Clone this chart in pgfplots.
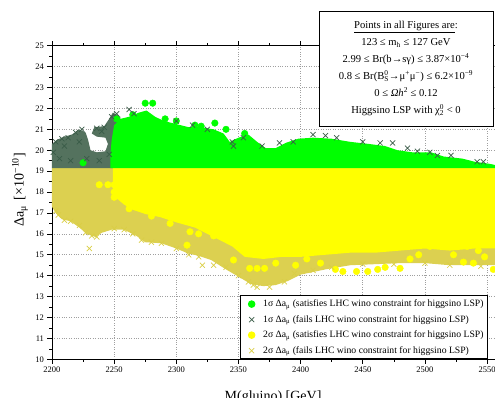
\documentclass[border=0pt]{standalone}
\usepackage{fontspec}
\setmainfont{Liberation Serif}
\usepackage{pgfplots}
\pgfplotsset{compat=1.18}
\definecolor{lgreen}{RGB}{0,255,0}
\definecolor{lyellow}{RGB}{255,255,0}
\definecolor{darkx}{RGB}{58,92,72}
\definecolor{darkfill}{RGB}{84,114,94}
\definecolor{olivex}{RGB}{218,206,70}
\definecolor{olivefill}{RGB}{220,208,80}
\newcommand{\sub}[1]{\textsubscript{#1}}
\newcommand{\sups}[1]{\textsuperscript{#1}}
\begin{document}
\begin{tikzpicture}
\begin{axis}[
  scale only axis, width=447.5pt, height=313.6pt,
  xmin=2200, xmax=2560, ymin=10, ymax=25,
  xtick={2200,2250,...,2550}, ytick={10,11,...,25},
  minor x tick num=1, minor y tick num=1,
  tick align=outside, major tick length=4.5pt, minor tick length=2.5pt,
  tick style={black, line width=0.6pt},
  axis line style={black, line width=0.9pt},
  xmajorgrids, ymajorgrids,
  grid style={gray!75, dotted, line width=0.7pt},
  /pgf/number format/assume math mode=true,
  /pgf/number format/1000 sep={},
  tick label style={font=\fontsize{8.5}{10}\selectfont},
  clip mode=individual,
  every axis y label/.style={at={(axis description cs:-0.0715,0.54)},rotate=90,anchor=center,font=\fontsize{14}{16}\selectfont},
  every axis x label/.style={at={(axis description cs:0.494,-0.12)},anchor=center,font=\fontsize{14}{16}\selectfont},
  xlabel={M(gluino) [GeV]},
  ylabel={Δa\sub{μ}\, [×10\sups{−10}]},
  legend cell align=left,
  legend image code/.code={\path[draw=none,fill=none] (0pt,-3pt) rectangle (19pt,3pt);
     \draw[mark repeat=2,mark phase=2,#1] plot coordinates {(0pt,0pt)(9pt,0pt)(18pt,0pt)};},
  legend style={at={(axis cs:2351,10)}, anchor=south west, draw=black, line width=0.9pt,
    font=\fontsize{9.7}{11.5}\selectfont, row sep=4.2pt, inner sep=2.5pt,
    nodes={inner sep=1.5pt}},
]
% --- filled dense regions ---
\addplot[fill=olivefill, draw=none, forget plot] coordinates {
(2200,19.15) (2560,19.15) (2560,14.5) (2540,14.5) (2520,14.5) (2500,14.6) (2480,14.6)
(2460,14.55) (2440,14.5) (2420,14.3) (2400,14.05) (2390,13.75) (2380,13.55) (2370,13.5)
(2360,13.6) (2350,13.95) (2340,14.3) (2328,14.75) (2318,14.95) (2310,15.05) (2300,15.3)
(2288,15.55) (2275,15.6) (2268,15.9) (2258,16.2) (2248,16.2) (2240,16.05) (2235,15.85)
(2228,16.0) (2222,16.3) (2215,16.6) (2208,16.7) (2203,17.0) (2200,17.3)
} -- cycle;
\addplot[fill=darkfill, draw=none, forget plot] coordinates {
(2200,19.15) (2200,20.3) (2204,20.5) (2210,20.65) (2216,20.75) (2222,21.0) (2227,20.85)
(2229,20.5) (2231,20.0) (2236,19.9) (2243,19.95) (2245,20.3) (2243,20.6) (2236,20.65)
(2232,20.8) (2234,21.1) (2242,21.15) (2246,21.5) (2249,21.8) (2255,21.6) (2255,19.15)
} -- cycle;
\addplot[fill=lyellow, draw=none, forget plot] coordinates {
(2249,19.15) (2560,19.15) (2560,15.3) (2540,15.3) (2520,15.2) (2500,15.3) (2480,15.2)
(2460,15.1) (2440,15.1) (2420,15.0) (2400,14.9) (2385,14.9) (2370,14.8) (2355,14.9)
(2345,15.4) (2335,15.7) (2325,16.0) (2315,16.3) (2300,16.55) (2287,16.8) (2275,16.95)
(2265,17.15) (2258,17.4) (2252,17.7) (2249,18.0)
} -- cycle;
\addplot[fill=lgreen, draw=none, forget plot] coordinates {
(2247,19.15) (2247,19.8) (2248,20.5) (2250,21.2) (2255,21.5) (2262,21.6) (2270,21.8)
(2276,21.9) (2283,21.6) (2290,21.4) (2300,21.25) (2310,21.1) (2320,21.1) (2330,21.0)
(2338,20.8) (2343,20.4) (2350,20.6) (2358,20.75) (2365,20.4) (2372,20.1) (2380,20.1)
(2388,20.35) (2398,20.55) (2410,20.6) (2425,20.55) (2440,20.4) (2455,20.3) (2468,20.2)
(2478,20.0) (2490,19.9) (2505,19.9) (2515,19.7) (2530,19.6) (2540,19.45) (2552,19.35)
(2560,19.25) (2560,19.15)
} -- cycle;
% --- individual points at the edges ---
\addplot[only marks, mark=*, mark size=3.3pt, color=lgreen] coordinates {
(2275,22.25) (2281,22.25) (2291,21.5) (2300,21.4) (2331,21.3) (2340,21.0) (2225,19.4)
(2252,21.5) (2265,21.7) (2315,21.2) (2355,20.8) (2320,21.15)
};
\addlegendentry{1σ Δa\sub{μ} (satisfies LHC wino constraint for higgsino LSP)}
\addplot[only marks, mark=x, mark size=3.6pt, color=darkx, line width=0.7pt] coordinates {
(2203,20.4) (2208,20.55) (2213,20.6) (2219,20.85) (2224,21.0) (2236,21.05) (2242,21.1)
(2248,21.6) (2252,21.75) (2262,21.95) (2266,21.75) (2300,21.4) (2313,21.2) (2325,21.0)
(2345,20.4) (2346,20.2) (2354,20.6) (2369,20.2) (2383,20.35) (2394,20.4) (2410,20.75)
(2420,20.7) (2429,20.6) (2450,20.4) (2464,20.35) (2474,20.35) (2486,20.1) (2494,19.95)
(2504,19.9) (2510,19.75) (2521,19.75) (2542,19.45) (2547,19.45) (2201,19.9) (2206,19.6)
(2215,19.5) (2228,19.6) (2238,19.5) (2246,19.8) (2210,20.2) (2222,20.4) (2240,20.9)
};
\addlegendentry{1σ Δa\sub{μ} (fails LHC wino constraint for higgsino LSP)}
\addplot[only marks, mark=*, mark size=3.3pt, color=lyellow] coordinates {
(2238,18.35) (2245,18.35) (2250,18.35) (2250,18.0) (2250,17.75)
(2262,17.2) (2280,16.85) (2295,16.5) (2308.6,15.46) (2311,16.1) (2318,16.0) (2330,15.9)
(2346,14.75) (2351,15.85) (2359,14.35) (2365,14.35) (2371,14.35) (2380,14.6) (2396,14.5)
(2405,14.8) (2416,14.6) (2428,14.3) (2434,14.2) (2445,14.2) (2454,14.2) (2462,14.3)
(2468,14.4) (2480,14.35) (2488,14.8) (2495,15.0) (2504,15.4) (2512,15.55) (2523,15.0)
(2531,14.65) (2539,14.6) (2543,15.2) (2548,14.9) (2534,15.4) (2555,14.3)
};
\addlegendentry{2σ Δa\sub{μ} (satisfies LHC wino constraint for higgsino LSP)}
\addplot[only marks, mark=x, mark size=3.6pt, color=olivex, line width=0.7pt] coordinates {
(2203,17.1) (2205,16.9) (2210,16.65) (2215,16.6) (2222,16.4) (2227,16.05) (2230,15.3)
(2232,15.9) (2236,15.85) (2250,16.25) (2258,16.2) (2265,16.0) (2272,15.7) (2280,15.6)
(2288,15.55) (2300,15.3) (2310,15.0) (2318,14.9) (2321,14.5) (2330,14.5) (2340,14.4)
(2350,14.0) (2358,13.7) (2362,13.55) (2365,13.45) (2375,13.45) (2387,13.7) (2395,14.1)
(2410,14.25) (2425,14.4) (2450,14.55) (2475,14.55) (2500,14.6) (2520,14.5) (2545,14.45)
};
\addlegendentry{2σ Δa\sub{μ} (fails LHC wino constraint for higgsino LSP)}
\end{axis}
\node[draw=black, line width=0.9pt, fill=white, minimum width=174pt, minimum height=115pt,
  align=center, font=\fontsize{10.6}{17}\selectfont, anchor=center] at (354pt,290.5pt) {%
\underline{Points in all Figures are}:\\
123 ≤ m\sub{h} ≤ 127 GeV\\
2.99 ≤ Br(b→sγ) ≤ 3.87×10\sups{−4}\\
0.8 ≤ Br(B\rlap{\sups{0}}\sub{S}→μ\sups{+}μ\sups{−}) ≤ 6.2×10\sups{−9}\\
0 ≤ \textit{Ωh}\sups{2} ≤ 0.12\\
Higgsino LSP with χ\rlap{\sups{0}}\sub{2} \textless{} 0};
\pgfresetboundingbox
\path[use as bounding box] (-52pt,-38.7pt) rectangle (443pt,359.3pt);
\end{tikzpicture}
\end{document}
